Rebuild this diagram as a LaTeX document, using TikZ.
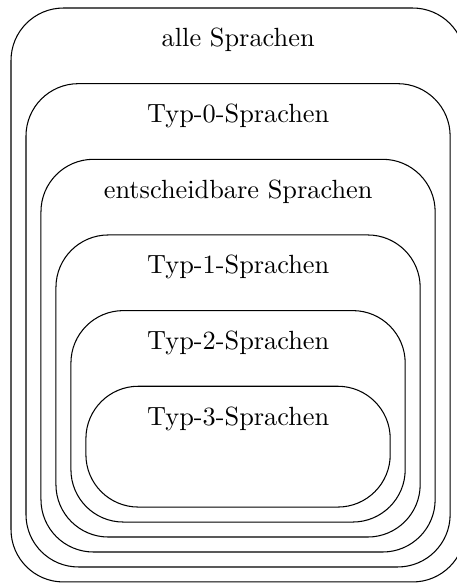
\documentclass[tikz,border=0pt]{standalone}

\newcommand{\cornerradius}{0.7cm}
\newcommand{\hstep}{0.2}
\newcommand{\vstep}{1.01}

\tikzset{
    langbox/.style={draw,rounded corners=\cornerradius},
    langlabel/.style={anchor=base}
}

\begin{document}
\begin{tikzpicture}

\useasboundingbox (0,0) rectangle (6.09,-7.784);

% outer box: (0.147,-0.107) to (6.21,-7.77), each inner one shrinks by the steps
\foreach \i/\name/\txt in {0/alle/alle Sprachen,
                           1/typnull/Typ-0-Sprachen,
                           2/entsch/entscheidbare Sprachen,
                           3/typeins/Typ-1-Sprachen,
                           4/typzwei/Typ-2-Sprachen,
                           5/typdrei/Typ-3-Sprachen} {
    \pgfmathsetmacro{\xl}{0.147+\i*\hstep}
    \pgfmathsetmacro{\xr}{6.21-\i*\hstep}
    \pgfmathsetmacro{\yt}{-0.107-\i*\vstep}
    \pgfmathsetmacro{\yb}{-7.77+\i*\hstep}
    \draw[langbox] (\xl,\yt) rectangle (\xr,\yb);
    \node[langlabel] (\name) at (3.18,\yt-0.52) {\txt};
}

\end{tikzpicture}
\end{document}
